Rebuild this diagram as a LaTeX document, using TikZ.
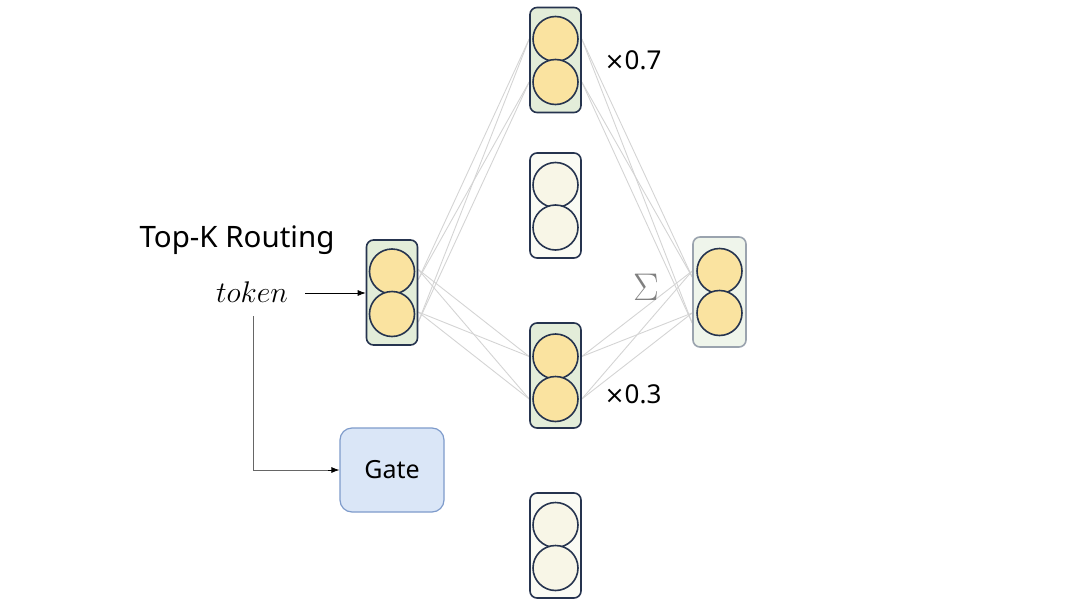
\documentclass[tikz,border=0pt]{standalone}
\usepackage{graphicx}
\usepackage{fontspec}
\newfontfamily\uisans{Noto Sans}
\newfontfamily\symsans{DejaVu Sans}
\usetikzlibrary{arrows.meta,backgrounds}
\definecolor{navy}{HTML}{26344F}
\definecolor{actfill}{HTML}{E3EDD9}
\definecolor{inactfill}{HTML}{FAFBF4}
\definecolor{circact}{HTML}{FAE3A0}
\definecolor{circinact}{HTML}{F8F6E7}
\definecolor{outfill}{HTML}{EFF5EB}
\definecolor{outdraw}{HTML}{9AA3AE}
\definecolor{gatefill}{HTML}{DAE6F7}
\definecolor{gatedraw}{HTML}{7E9BCB}
\definecolor{linkgray}{HTML}{D4D4D4}
\tikzset{
  expbox/.style={draw=navy, line width=1.6pt, rounded corners=7pt, minimum width=51pt, minimum height=105pt, inner sep=0pt},
  actbox/.style={expbox, fill=actfill},
  inactbox/.style={expbox, fill=inactfill},
  outbox/.style={expbox, draw=outdraw, fill=outfill, minimum width=53pt, minimum height=110pt},
  neuron/.style={circle, draw=navy, line width=1.6pt, minimum size=45pt, inner sep=0pt},
  actneuron/.style={neuron, fill=circact},
  inactneuron/.style={neuron, fill=circinact},
  link/.style={draw=linkgray, line width=0.9pt},
  lbl/.style={font=\uisans\fontsize{26}{30}\selectfont, inner sep=0pt},
  arr/.style={line width=0.8pt, -{Latex[length=8pt,width=6pt]}}
}
\begin{document}
\begin{tikzpicture}[x=1pt,y=-1pt]
\useasboundingbox (0,0) rectangle (1080,608);
% input
\node[actbox] (inb) at (392,292.5) {};
\node[actneuron] (in1) at (392,271.5) {};
\node[actneuron] (in2) at (392,314) {};
% experts
\node[actbox] (e1) at (555.5,60) {};
\node[actneuron] (e1a) at (555.5,39) {};
\node[actneuron] (e1b) at (555.5,82) {};
\node[inactbox] (e2) at (555.5,205.5) {};
\node[inactneuron] (e2a) at (555.5,185) {};
\node[inactneuron] (e2b) at (555.5,227.5) {};
\node[actbox] (e3) at (555.5,375.5) {};
\node[actneuron] (e3a) at (555.5,356.5) {};
\node[actneuron] (e3b) at (555.5,399) {};
\node[inactbox] (e4) at (555.5,545.5) {};
\node[inactneuron] (e4a) at (555.5,525) {};
\node[inactneuron] (e4b) at (555.5,568) {};
% output
\node[outbox] (ob) at (719.5,292) {};
\node[actneuron] (o1) at (719.5,271) {};
\node[actneuron] (o2) at (719.5,313) {};
% links
\begin{scope}[on background layer]
\foreach \s/\dy in {in1/-8,in2/-8} {
  \foreach \t in {e1a,e1b} {
    \draw[link] ([yshift=\dy pt]inb.east |- \s) -- (e1.west |- \t);
  }
}
\foreach \s/\dy in {in1/2,in2/2} {
  \foreach \t in {e3a,e3b} {
    \draw[link] ([yshift=\dy pt]inb.east |- \s) -- (e3.west |- \t);
  }
}
\foreach \s in {e1a,e1b} {
  \foreach \t/\dy in {o1/-6,o2/-10} {
    \draw[link] (e1.east |- \s) -- ([yshift=\dy pt]ob.west |- \t);
  }
}
\foreach \s in {e3a,e3b} {
  \foreach \t in {o1,o2} {
    \draw[link] (e3.east |- \s) -- (ob.west |- \t);
  }
}
\end{scope}
% texts
\node[font=\uisans\fontsize{29.5}{34}\selectfont, inner sep=0pt] (title) at (237,240) {Top-K Routing};
\node[font=\fontsize{24.88}{30}\selectfont, inner sep=0pt] (tok) at (252,292) {\scalebox{1.2}{$token$}};
\node[lbl] (w1) at (633,60) {{\symsans\fontsize{24}{30}\selectfont ×}0.7};
\node[lbl] (w3) at (633,394) {{\symsans\fontsize{24}{30}\selectfont ×}0.3};
\node[font=\fontsize{24.88}{30}\selectfont, text=black!50, inner sep=0pt] (sig) at (646,287) {\scalebox{1.55}{$\Sigma$}};
% gate
\node[draw=gatedraw, fill=gatefill, line width=1.2pt, rounded corners=12pt, minimum width=104pt, minimum height=84pt, font=\uisans\fontsize{25}{30}\selectfont] (gate) at (392,470) {Gate};
% arrows
\coordinate (tokr) at (305,293);
\coordinate (tokd) at (253,316);
\draw[arr] (tokr) -- (inb.west |- tokr);
\draw[line width=0.8pt, draw=black!60] (tokd) |- ([xshift=-10pt]gate.west);
\draw[arr] ([xshift=-11pt]gate.west) -- (gate.west);
\end{tikzpicture}
\end{document}
